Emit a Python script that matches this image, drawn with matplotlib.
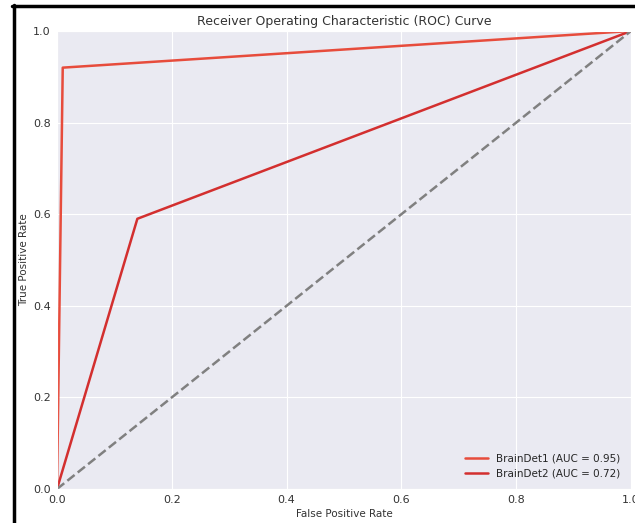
import matplotlib
matplotlib.use("Agg")
import matplotlib.pyplot as plt
import seaborn as sns
from matplotlib.lines import Line2D

# ROC points
fpr1 = [0.0, 0.01, 1.0]
tpr1 = [0.0, 0.92, 1.0]
fpr2 = [0.0, 0.14, 1.0]
tpr2 = [0.0, 0.59, 1.0]
labels = ["BrainDet1 (AUC = 0.95)", "BrainDet2 (AUC = 0.72)"]
colors = ["#e74c3c", "#d32f2f"]

sns.set_style("darkgrid")
plt.rcParams["font.family"] = ["DejaVu Sans"]

fig = plt.figure(figsize=(6.35, 5.23), dpi=100)
W, H = 635, 523
ax = fig.add_axes([57 / W, 1 - 489 / H, 574 / W, 458 / H])

ax.plot(fpr1, tpr1, color=colors[0], lw=1.8, label=labels[0])
ax.plot(fpr2, tpr2, color=colors[1], lw=1.8, label=labels[1])
ax.plot([0, 1], [0, 1], color="gray", lw=1.8, linestyle="--")

ax.set_xlim(0, 1)
ax.set_ylim(0, 1)
ax.set_xlabel("False Positive Rate", fontsize=7.5, color="#333333", labelpad=3)
ax.set_ylabel("True Positive Rate", fontsize=7.5, color="#333333", labelpad=3)
ax.set_title("Receiver Operating Characteristic (ROC) Curve", fontsize=9, color="#333333", pad=4)
ax.tick_params(labelsize=8, colors="#333333", pad=1)
ax.legend(loc="lower right", fontsize=7.5, frameon=False, labelspacing=0.5,
          borderaxespad=0.6, handlelength=2.2)

# black frame of the screenshot
fig.add_artist(Line2D([13.5 / W, 13.5 / W], [0, 1 - 5 / H], color="black", lw=2.5, transform=fig.transFigure))
fig.add_artist(Line2D([12 / W, 1], [1 - 6 / H, 1 - 6 / H], color="black", lw=2.5, transform=fig.transFigure))

fig.savefig("out.png", dpi=100)
